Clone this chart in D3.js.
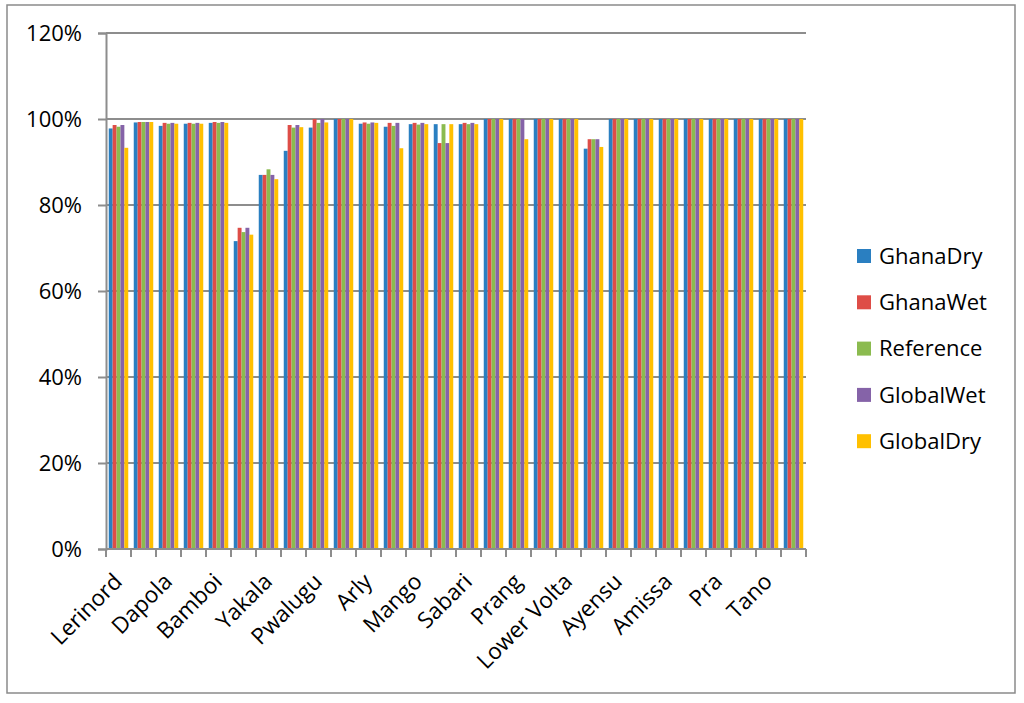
<!DOCTYPE html>
<html>
<head>
<meta charset="utf-8">
<script src="https://cdn.jsdelivr.net/npm/d3@7"></script>
<style>
  html, body { margin: 0; padding: 0; background: #fff; }
  svg { display: block; }
  text { font-family: "Open Sans", "Noto Sans", sans-serif; fill: #000; }
</style>
</head>
<body>
<svg id="chart" width="1024" height="703"></svg>
<script>
// ---- data ----
const labels = ["Lerinord", "Dapola", "Bamboi", "Yakala", "Pwalugu", "Arly", "Mango",
                "Sabari", "Prang", "Lower Volta", "Ayensu", "Amissa", "Pra", "Tano"];
// 28 category slots; only every other one carries a visible label
const categoryCount = 28;
const seriesNames = ["GhanaDry", "GhanaWet", "Reference", "GlobalWet", "GlobalDry"];
const colors = ["#2A7FC1", "#DE4D47", "#8BBB4F", "#8563A8", "#FFC000"];

const GhanaDry  = [97.8, 99.2, 98.4, 98.9, 99.1, 71.6, 87.0, 92.6, 98.0, 100, 98.9, 98.2, 98.8, 98.8,
                   98.8, 100, 100, 100, 100, 93.1, 100, 100, 100, 100, 100, 100, 100, 100];
const GhanaWet  = [98.6, 99.3, 99.1, 99.1, 99.3, 74.7, 87.0, 98.6, 100, 100, 99.2, 99.1, 99.1, 94.4,
                   99.1, 100, 100, 100, 100, 95.3, 100, 100, 100, 100, 100, 100, 100, 100];
const Reference = [98.2, 99.3, 98.9, 98.9, 99.1, 73.7, 88.3, 98.0, 99.1, 100, 98.9, 98.4, 98.7, 98.8,
                   98.8, 100, 100, 100, 100, 95.3, 100, 100, 100, 100, 100, 100, 100, 100];
const GlobalWet = [98.6, 99.3, 99.1, 99.1, 99.3, 74.7, 87.0, 98.6, 100, 100, 99.2, 99.1, 99.1, 94.4,
                   99.1, 100, 100, 100, 100, 95.3, 100, 100, 100, 100, 100, 100, 100, 100];
const GlobalDry = [93.3, 99.3, 98.9, 98.9, 99.1, 73.1, 86.0, 98.1, 99.2, 100, 99.1, 93.2, 98.8, 98.8,
                   98.8, 100, 95.3, 100, 100, 93.5, 100, 100, 100, 100, 100, 100, 100, 100];
const seriesValues = [GhanaDry, GhanaWet, Reference, GlobalWet, GlobalDry];
const yTicks = [0, 20, 40, 60, 80, 100, 120];

// ---- layout ----
const svg = d3.select("#chart");
const plot = { left: 106, right: 806, top: 33, bottom: 549 };
const gridColor = "#8d8d8d";

svg.append("rect")
  .attr("x", 7).attr("y", 5).attr("width", 1008).attr("height", 688)
  .attr("fill", "#fff").attr("stroke", "#8a8a8a").attr("stroke-width", 1.5);

const idx = d3.range(categoryCount);
const x0 = d3.scaleBand().domain(idx).range([plot.left, plot.right])
  .paddingInner(0.22).paddingOuter(0.11);
const x1 = d3.scaleBand().domain(d3.range(seriesNames.length)).range([0, x0.bandwidth()]);
const y = d3.scaleLinear().domain([0, 120]).range([plot.bottom, plot.top]);

// gridlines
svg.append("g").selectAll("line").data(yTicks.filter(d => d > 0)).join("line")
  .attr("x1", plot.left).attr("x2", plot.right)
  .attr("y1", d => y(d)).attr("y2", d => y(d))
  .attr("stroke", gridColor).attr("stroke-width", 2);

// bars
const groups = svg.append("g").selectAll("g").data(idx).join("g")
  .attr("transform", i => `translate(${x0(i)},0)`);
groups.selectAll("rect")
  .data(i => seriesValues.map((vals, s) => ({ s, v: vals[i] })))
  .join("rect")
  .attr("x", d => x1(d.s))
  .attr("width", x1.bandwidth())
  .attr("y", d => y(d.v))
  .attr("height", d => y(0) - y(d.v))
  .attr("fill", d => colors[d.s]);

// y axis
const yAxis = svg.append("g").attr("transform", `translate(${plot.left},0)`)
  .call(d3.axisLeft(y).tickValues(yTicks).tickFormat(d => d + "%").tickSize(8).tickPadding(16));
yAxis.select(".domain").attr("stroke", gridColor).attr("stroke-width", 2);
yAxis.selectAll(".tick line").attr("stroke", gridColor).attr("stroke-width", 2);
yAxis.selectAll(".tick text").attr("font-size", 22).attr("font-family", "'Open Sans', sans-serif")
  .attr("fill", "#000");

// x axis line + boundary ticks
const step = x0.step();
const boundaries = d3.range(categoryCount + 1).map(k => plot.left + k * step);
svg.append("line").attr("x1", plot.left).attr("x2", plot.right)
  .attr("y1", y(0)).attr("y2", y(0)).attr("stroke", gridColor).attr("stroke-width", 2);
svg.append("g").selectAll("line").data(boundaries).join("line")
  .attr("x1", d => d).attr("x2", d => d)
  .attr("y1", y(0)).attr("y2", y(0) + 8)
  .attr("stroke", gridColor).attr("stroke-width", 2);

// x labels (every other category)
svg.append("g").selectAll("text").data(idx.filter(i => i % 2 === 0)).join("text")
  .attr("transform", i => `translate(${x0(i) + x0.bandwidth() / 2 + 5},${y(0) + 34}) rotate(-45)`)
  .attr("text-anchor", "end")
  .attr("font-size", 22.5)
  .text(i => labels[i / 2]);

// legend
const legend = svg.append("g").selectAll("g").data(seriesNames).join("g")
  .attr("transform", (d, i) => `translate(857,${256 + i * 46.3})`);
legend.append("rect").attr("x", 0).attr("y", -7).attr("width", 14).attr("height", 14)
  .attr("fill", (d, i) => colors[i]);
legend.append("text").attr("x", 22).attr("y", 0).attr("dy", "0.35em")
  .attr("font-size", 22).text(d => d);
</script>
</body>
</html>
